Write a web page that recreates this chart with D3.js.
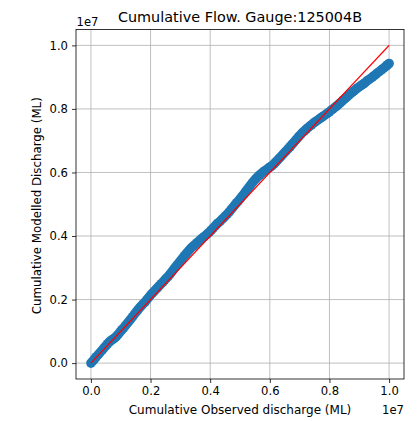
<!DOCTYPE html>
<html>
<head>
<meta charset="utf-8">
<script src="https://cdn.jsdelivr.net/npm/d3@7"></script>
<style>
  html, body { margin: 0; padding: 0; background: #fff; }
  svg { display: block; font-family: "DejaVu Sans", sans-serif; }
</style>
</head>
<body>
<svg id="chart" width="417" height="421"></svg>
<script>
// Cumulative observed discharge (ML, units of 1e7)
const observed = [
  0.000, 0.006, 0.012, 0.018, 0.025, 0.031, 0.038, 0.044, 0.050, 0.056,
  0.062, 0.067, 0.072, 0.077, 0.082, 0.087, 0.092, 0.098, 0.104, 0.110,
  0.116, 0.122, 0.128, 0.134, 0.140, 0.146, 0.152, 0.158, 0.164, 0.170,
  0.176, 0.182, 0.188, 0.194, 0.200, 0.206, 0.212, 0.218, 0.224, 0.230,
  0.236, 0.242, 0.248, 0.254, 0.260, 0.266, 0.272, 0.278, 0.284, 0.290,
  0.296, 0.302, 0.308, 0.314, 0.320, 0.326, 0.332, 0.338, 0.344, 0.350,
  0.356, 0.362, 0.368, 0.374, 0.380, 0.386, 0.392, 0.398, 0.404, 0.410,
  0.416, 0.422, 0.428, 0.434, 0.440, 0.446, 0.452, 0.458, 0.464, 0.470,
  0.476, 0.482, 0.488, 0.494, 0.500, 0.506, 0.512, 0.518, 0.524, 0.530,
  0.536, 0.542, 0.548, 0.554, 0.560, 0.566, 0.572, 0.578, 0.584, 0.590,
  0.596, 0.602, 0.608, 0.614, 0.620, 0.626, 0.632, 0.638, 0.644, 0.650,
  0.656, 0.662, 0.668, 0.674, 0.680, 0.686, 0.692, 0.698, 0.704, 0.710,
  0.716, 0.722, 0.728, 0.734, 0.740, 0.746, 0.752, 0.758, 0.764, 0.770,
  0.776, 0.782, 0.788, 0.794, 0.800, 0.806, 0.812, 0.818, 0.824, 0.830,
  0.836, 0.842, 0.848, 0.854, 0.860, 0.866, 0.872, 0.878, 0.884, 0.890,
  0.896, 0.902, 0.908, 0.914, 0.920, 0.926, 0.932, 0.938, 0.944, 0.950,
  0.956, 0.962, 0.968, 0.974, 0.980, 0.985, 0.990, 0.995, 1.000
];
// Cumulative modelled discharge (ML, units of 1e7)
const modelled = [
  0.000, 0.006, 0.013, 0.020, 0.027, 0.034, 0.041, 0.048, 0.054, 0.061,
  0.067, 0.071, 0.074, 0.077, 0.081, 0.086, 0.091, 0.098, 0.105, 0.111,
  0.118, 0.125, 0.132, 0.139, 0.146, 0.154, 0.161, 0.168, 0.175, 0.181,
  0.187, 0.193, 0.200, 0.207, 0.214, 0.220, 0.226, 0.232, 0.238, 0.244,
  0.250, 0.256, 0.262, 0.268, 0.274, 0.281, 0.288, 0.296, 0.303, 0.310,
  0.317, 0.324, 0.331, 0.338, 0.345, 0.352, 0.358, 0.364, 0.369, 0.374,
  0.379, 0.384, 0.389, 0.394, 0.398, 0.403, 0.408, 0.413, 0.419, 0.425,
  0.431, 0.437, 0.442, 0.447, 0.453, 0.458, 0.464, 0.470, 0.476, 0.483,
  0.490, 0.497, 0.504, 0.510, 0.517, 0.524, 0.531, 0.539, 0.546, 0.554,
  0.561, 0.568, 0.575, 0.581, 0.587, 0.592, 0.597, 0.602, 0.606, 0.610,
  0.614, 0.618, 0.622, 0.627, 0.633, 0.639, 0.645, 0.651, 0.657, 0.663,
  0.669, 0.675, 0.681, 0.688, 0.694, 0.701, 0.707, 0.714, 0.720, 0.726,
  0.731, 0.736, 0.741, 0.746, 0.750, 0.755, 0.759, 0.763, 0.767, 0.771,
  0.775, 0.779, 0.783, 0.787, 0.791, 0.796, 0.800, 0.805, 0.809, 0.814,
  0.819, 0.824, 0.829, 0.834, 0.839, 0.844, 0.849, 0.854, 0.858, 0.863,
  0.867, 0.871, 0.875, 0.879, 0.883, 0.888, 0.892, 0.896, 0.900, 0.905,
  0.909, 0.914, 0.918, 0.923, 0.927, 0.931, 0.935, 0.939, 0.943
];
// 1:1 reference line
const oneToOne = [0.0, 1.0];
const tickValues = [0.0, 0.2, 0.4, 0.6, 0.8, 1.0];
const tickLabels = ["0.0", "0.2", "0.4", "0.6", "0.8", "1.0"];

const titleText = "Cumulative Flow. Gauge:125004B";
const xLabel = "Cumulative Observed discharge (ML)";
const yLabel = "Cumulative Modelled Discharge (ML)";
const offsetText = "1e7";

const svg = d3.select("#chart");
const m = { left: 76, right: 404, top: 29.5, bottom: 379 };

const x = d3.scaleLinear().domain([-0.05, 1.05]).range([m.left, m.right]);
const y = d3.scaleLinear().domain([-0.05, 1.05]).range([m.bottom, m.top]);

// grid
const grid = svg.append("g");
grid.selectAll(".gx").data(tickValues).enter().append("line")
  .attr("x1", d => x(d)).attr("x2", d => x(d))
  .attr("y1", m.top).attr("y2", m.bottom)
  .attr("stroke", "#b0b0b0").attr("stroke-width", 0.8);
grid.selectAll(".gy").data(tickValues).enter().append("line")
  .attr("y1", d => y(d)).attr("y2", d => y(d))
  .attr("x1", m.left).attr("x2", m.right)
  .attr("stroke", "#b0b0b0").attr("stroke-width", 0.8);

// scatter
const pts = observed.map((v, i) => [v, modelled[i]]);
svg.append("g").selectAll("circle").data(pts).enter().append("circle")
  .attr("cx", d => x(d[0])).attr("cy", d => y(d[1]))
  .attr("r", 4.8).attr("fill", "#1f77b4");

// 1:1 line
svg.append("line")
  .attr("x1", x(oneToOne[0])).attr("y1", y(oneToOne[0]))
  .attr("x2", x(oneToOne[1])).attr("y2", y(oneToOne[1]))
  .attr("stroke", "#ff0000").attr("stroke-width", 1.4);

// axes
const fmt = (d) => tickLabels[tickValues.indexOf(d)];
const xAxis = d3.axisBottom(x).tickValues(tickValues).tickFormat(fmt).tickSize(4).tickPadding(4);
const yAxis = d3.axisLeft(y).tickValues(tickValues).tickFormat(fmt).tickSize(4).tickPadding(4);
const gx = svg.append("g").attr("transform", `translate(0,${m.bottom})`).call(xAxis);
const gy = svg.append("g").attr("transform", `translate(${m.left},0)`).call(yAxis);
[gx, gy].forEach(g => {
  g.select(".domain").remove();
  g.selectAll("text").attr("font-size", 11.6).attr("fill", "#000")
    .attr("font-family", "DejaVu Sans, sans-serif");
  g.selectAll("line").attr("stroke", "#000").attr("stroke-width", 0.8);
});

// frame
svg.append("rect")
  .attr("x", m.left).attr("y", m.top)
  .attr("width", m.right - m.left).attr("height", m.bottom - m.top)
  .attr("fill", "none").attr("stroke", "#000").attr("stroke-width", 0.8);

// texts
svg.append("text").attr("x", (m.left + m.right) / 2).attr("y", 22)
  .attr("text-anchor", "middle").attr("font-size", 14.4).text(titleText);
svg.append("text").attr("x", (m.left + m.right) / 2).attr("y", 414)
  .attr("text-anchor", "middle").attr("font-size", 12).text(xLabel);
svg.append("text").attr("transform", `translate(41,${(m.top + m.bottom) / 2 + 1.5}) rotate(-90)`)
  .attr("text-anchor", "middle").attr("font-size", 11.8).text(yLabel);
svg.append("text").attr("x", m.left + 0.5).attr("y", 26)
  .attr("font-size", 11.6).text(offsetText);
svg.append("text").attr("x", m.right).attr("y", 414)
  .attr("text-anchor", "end").attr("font-size", 11.6).text(offsetText);
</script>
</body>
</html>
